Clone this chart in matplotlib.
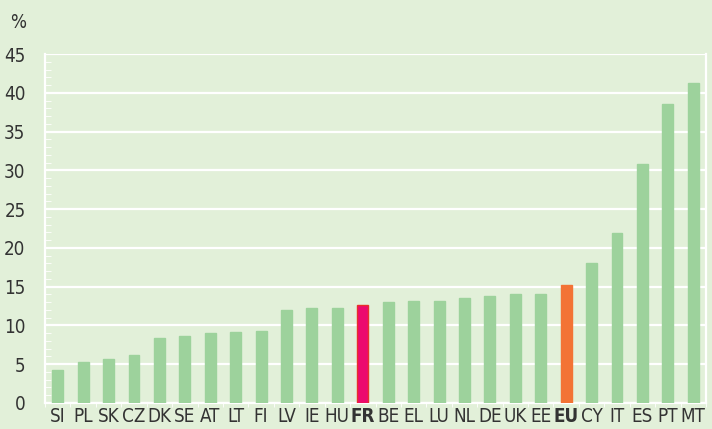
import matplotlib.pyplot as plt

# Données (en %)
pays = ["SI", "PL", "SK", "CZ", "DK", "SE", "AT", "LT", "FI", "LV", "IE", "HU", "FR",
        "BE", "EL", "LU", "NL", "DE", "UK", "EE", "EU", "CY", "IT", "ES", "PT", "MT"]
valeurs = [4.2, 5.3, 5.7, 6.2, 8.4, 8.6, 9.0, 9.1, 9.3, 12.0, 12.3, 12.3, 12.6,
           13.0, 13.2, 13.2, 13.6, 13.8, 14.0, 14.0, 15.2, 18.1, 21.9, 30.8, 38.5, 41.2]
yticks = [0, 5, 10, 15, 20, 25, 30, 35, 40, 45]

bg = "#e2f0d9"
vert = "#9dd29c"
couleurs = []
bords = []
for p in pays:
    if p == "FR":
        couleurs.append("#ec0a6e")
        bords.append("#e8302a")
    elif p == "EU":
        couleurs.append("#f37335")
        bords.append("#f37335")
    else:
        couleurs.append(vert)
        bords.append(vert)

plt.rcParams['font.family'] = ['Liberation Sans Narrow', 'DejaVu Sans']
plt.rcParams['font.stretch'] = 'condensed'

fig = plt.figure(figsize=(7.12, 4.29), dpi=100, facecolor=bg)
ax = fig.add_axes([45 / 712, 26 / 429, 661 / 712, 349 / 429])
ax.set_facecolor(bg)

x = list(range(len(pays)))
ax.bar(x, valeurs, width=0.43, color=couleurs, edgecolor=bords, linewidth=1, zorder=3)

ax.set_xlim(-0.5, len(pays) - 0.5)
ax.set_ylim(0, 45)
ax.set_yticks(yticks)
ax.set_yticks(range(0, 46), minor=True)
ax.set_yticklabels([str(v) for v in yticks], fontsize=13.5, color="#333333")
ax.yaxis.grid(True, color="white", linewidth=1.6, zorder=1)
ax.set_axisbelow(True)

ax.set_xticks(x)
ax.set_xticklabels(pays, fontsize=13.5, color="#333333")
for lab in ax.get_xticklabels():
    if lab.get_text() in ("FR", "EU"):
        lab.set_fontweight("bold")
ax.set_xticks([i + 0.5 for i in range(-1, len(pays))], minor=True)
ax.tick_params(axis="x", which="major", length=0, pad=3)
ax.tick_params(axis="x", which="minor", length=3, color="white", direction="out")
ax.tick_params(axis="y", which="major", length=0, pad=14)
ax.tick_params(axis="y", which="minor", length=4, color="white", direction="in")

ax.spines["top"].set_visible(False)
for s in ["left", "bottom", "right"]:
    ax.spines[s].set_color("white")
    ax.spines[s].set_linewidth(1.6)

fig.text(10 / 712, 1 - 22 / 429, "%", fontsize=13.5, color="#333333", va="center")

plt.savefig("out.png", dpi=100, facecolor=bg)
